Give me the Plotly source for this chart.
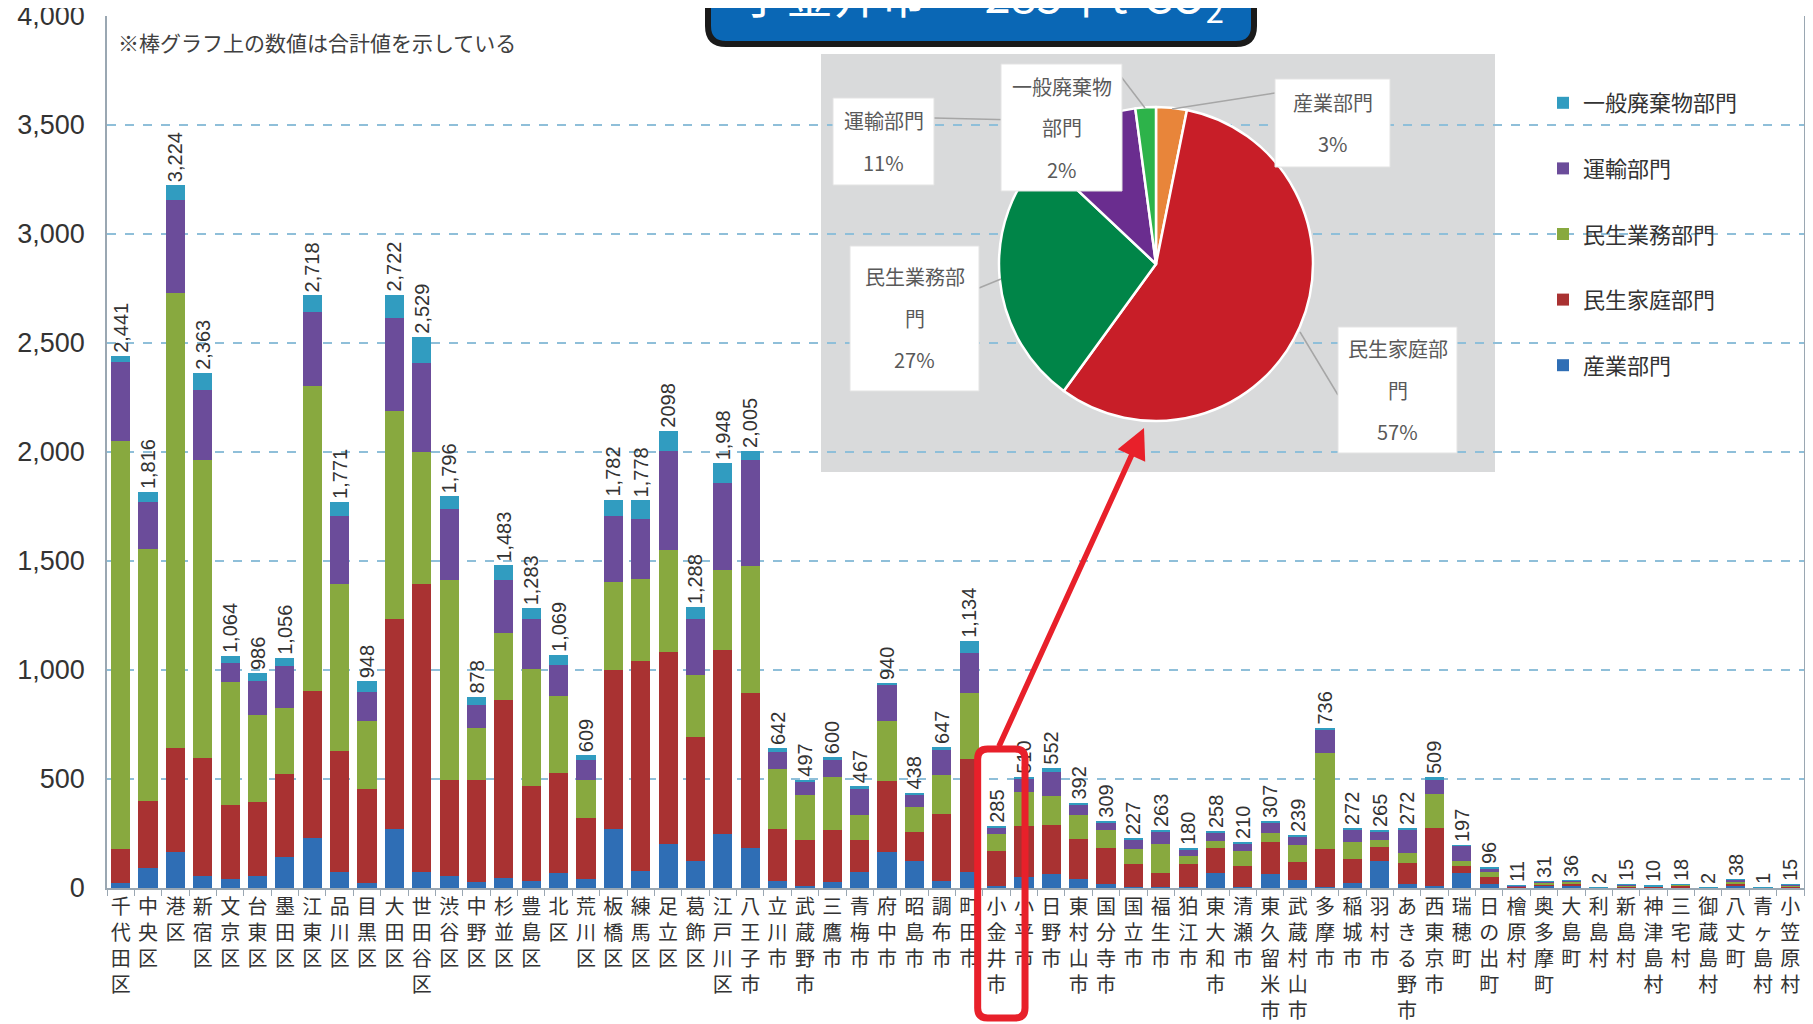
import plotly.graph_objects as go

# ---------------- data ----------------
municipalities = [
    "千代田区", "中央区", "港区", "新宿区", "文京区", "台東区", "墨田区", "江東区", "品川区", "目黒区",
    "大田区", "世田谷区", "渋谷区", "中野区", "杉並区", "豊島区", "北区", "荒川区", "板橋区", "練馬区",
    "足立区", "葛飾区", "江戸川区", "八王子市", "立川市", "武蔵野市", "三鷹市", "青梅市", "府中市", "昭島市",
    "調布市", "町田市", "小金井市", "小平市", "日野市", "東村山市", "国分寺市", "国立市", "福生市", "狛江市",
    "東大和市", "清瀬市", "東久留米市", "武蔵村山市", "多摩市", "稲城市", "羽村市", "あきる野市", "西東京市", "瑞穂町",
    "日の出町", "檜原村", "奥多摩町", "大島町", "利島村", "新島村", "神津島村", "三宅村", "御蔵島村", "八丈町",
    "青ヶ島村", "小笠原村",
]

total_labels = [
    "2,441", "1,816", "3,224", "2,363", "1,064", "986", "1,056", "2,718", "1,771", "948",
    "2,722", "2,529", "1,796", "878", "1,483", "1,283", "1,069", "609", "1,782", "1,778",
    "2098", "1,288", "1,948", "2,005", "642", "497", "600", "467", "940", "438",
    "647", "1,134", "285", "510", "552", "392", "309", "227", "263", "180",
    "258", "210", "307", "239", "736", "272", "265", "272", "509", "197",
    "96", "11", "31", "36", "2", "15", "10", "18", "2", "38",
    "1", "15",
]

industry = [  # 産業部門
    25, 93, 166, 57, 40, 57, 144, 228, 74, 25,
    270, 74, 57, 28, 46, 33, 70, 41, 272, 77,
    204, 122, 249, 184, 33, 11, 29, 72, 167, 122,
    34, 72, 9, 49, 64, 41, 18, 3, 6, 3,
    71, 3, 65, 38, 6, 22, 125, 18, 11, 68,
    20, 2, 8, 8, 0.3, 3, 2, 4, 0.3, 8,
    0.2, 3,
]
household = [  # 民生家庭部門
    154, 304, 475, 538, 342, 336, 380, 677, 554, 427,
    964, 1321, 438, 468, 818, 435, 456, 280, 730, 964,
    879, 571, 842, 712, 236, 208, 238, 150, 325, 133,
    306, 518, 162, 235, 226, 186, 165, 105, 63, 109,
    111, 100, 145, 80, 175, 109, 63, 96, 262, 35,
    30, 4, 10, 12, 0.7, 5, 3, 6, 0.7, 12,
    0.3, 5,
]
business = [  # 民生業務部門
    1873, 1156, 2089, 1367, 563, 401, 304, 1397, 768, 312,
    954, 603, 916, 236, 308, 538, 355, 174, 403, 375,
    469, 285, 368, 580, 275, 207, 242, 112, 272, 118,
    179, 303, 77, 158, 130, 107, 84, 69, 132, 35,
    32, 68, 42, 79, 439, 82, 31, 46, 159, 23,
    22, 2, 6, 8, 0.5, 3, 2, 4, 0.5, 9,
    0.2, 3,
]
transport = [  # 運輸部門
    359, 217, 426, 323, 87, 154, 190, 338, 312, 133,
    426, 409, 326, 109, 241, 228, 142, 90, 302, 277,
    453, 258, 399, 487, 82, 63, 77, 122, 165, 58,
    112, 184, 31, 57, 114, 46, 34, 45, 57, 29,
    40, 35, 49, 38, 108, 55, 42, 108, 65, 68,
    18, 2.8, 6, 7, 0.4, 3, 2, 3, 0.4, 8,
    0.2, 3,
]
waste = [  # 一般廃棄物部門
    30, 46, 68, 78, 32, 38, 38, 78, 63, 51,
    108, 122, 59, 37, 70, 49, 46, 24, 75, 85,
    93, 52, 90, 42, 16, 8, 14, 11, 11, 7,
    16, 57, 6, 11, 18, 12, 8, 5, 5, 4,
    4, 4, 6, 4, 8, 4, 4, 4, 12, 3,
    6, 0.2, 1, 1, 0.1, 1, 1, 1, 0.1, 1,
    0.1, 1,
]

sectors = ["産業部門", "民生家庭部門", "民生業務部門", "運輸部門", "一般廃棄物部門"]
series = [industry, household, business, transport, waste]
bar_colors = ["#2F6EB5", "#A93232", "#88A93F", "#6B4C9A", "#319CC0"]

focus_city = "小金井市"
pie_colors = ["#E8853A", "#C81E28", "#008548", "#6A2D8F", "#2DB34A"]
pie_callout_lines = {
    "産業部門": ["産業部門"],
    "民生家庭部門": ["民生家庭部", "門"],
    "民生業務部門": ["民生業務部", "門"],
    "運輸部門": ["運輸部門"],
    "一般廃棄物部門": ["一般廃棄物", "部門"],
}

y_ticks = [0, 500, 1000, 1500, 2000, 2500, 3000, 3500, 4000]

# ---------------- layout geometry (page pixels) ----------------
PAGE_W, PAGE_H = 1813, 1024
BODY = 8  # default html body margin
W, H = PAGE_W - BODY, PAGE_H - BODY
L, R, T, B = 107, 1804, 16, 888  # plot area in page pixels
N = len(municipalities)
step = (R - L) / N


def px(xp):
    return (xp - L) / (R - L)


def py(yp):
    return (B - yp) / (B - T)


def dx(xp):  # pixel -> category coordinate
    return (xp - L) / step - 0.5


def dy(yp):  # pixel -> value coordinate
    return (B - yp) / (B - T) * 4000


CJK = "Noto Sans CJK JP"
SANS = "Liberation Sans, Arial, sans-serif"

fig = go.Figure()

for i, (name, vals, col) in enumerate(zip(sectors, series, bar_colors)):
    kw = {}
    if i == len(sectors) - 1:
        kw = dict(text=total_labels, textposition="outside", textangle=-90,
                  constraintext="none", cliponaxis=False,
                  textfont=dict(family=SANS, size=20, color="#333333"))
    fig.add_trace(go.Bar(
        x=municipalities, y=vals, name=name, marker=dict(color=col, line=dict(width=0)),
        legendgroup=name, legendrank=len(sectors) - i, hoverinfo="x+y+name", **kw))

# pie for the focus city
ci = municipalities.index(focus_city)
pie_vals = [s[ci] for s in series]
pie_total = sum(pie_vals)
pie_cx, pie_cy, pie_r = 1156, 264, 157
fig.add_trace(go.Pie(
    labels=sectors, values=pie_vals, sort=False, direction="clockwise", rotation=0,
    marker=dict(colors=pie_colors, line=dict(color="white", width=2.5)),
    textinfo="none", showlegend=False, hole=0,
    domain=dict(x=[px(pie_cx - pie_r), px(pie_cx + pie_r)], y=[py(pie_cy + pie_r), py(pie_cy - pie_r)]),
))

shapes = []
annotations = []

# gray background of the pie inset
shapes.append(dict(type="rect", xref="paper", yref="paper", x0=px(821), x1=px(1495), y0=py(472), y1=py(54),
                   fillcolor="#D9DADB", line=dict(width=0), layer="between"))

# callouts: (sector, box(x0,y0,x1,y1), leader line (xa,ya,xb,yb))
callouts = [
    ("運輸部門", (833, 98, 934, 185), (934, 118, 1104, 122)),
    ("一般廃棄物部門", (1001, 64, 1122, 191), (1116, 70, 1145, 108)),
    ("産業部門", (1275, 79, 1390, 167), (1275, 93, 1172, 109)),
    ("民生業務部門", (850, 246, 979, 391), (979, 288, 1001, 279)),
    ("民生家庭部門", (1338, 327, 1457, 453), (1300, 332, 1338, 395)),
]
for sec, box, ln in callouts:
    shapes.append(dict(type="line", xref="paper", yref="paper", x0=px(ln[0]), y0=py(ln[1]),
                       x1=px(ln[2]), y1=py(ln[3]), line=dict(color="#A6A6A6", width=1.5), layer="above"))
for sec, box, ln in callouts:
    x0, y0, x1, y1 = box
    shapes.append(dict(type="rect", xref="paper", yref="paper", x0=px(x0), x1=px(x1), y0=py(y1), y1=py(y0),
                       fillcolor="white", line=dict(color="#E3E3E3", width=1), layer="above"))
    pct = round(pie_vals[sectors.index(sec)] / pie_total * 100)
    lines = pie_callout_lines[sec] + [f"{pct}%"]
    n = len(lines)
    gap = 41.5
    cy = (y0 + y1) / 2
    for k, t in enumerate(lines):
        yy = cy + (k - (n - 1) / 2) * gap
        annotations.append(dict(xref="paper", yref="paper", x=px((x0 + x1) / 2), y=py(yy), text=t,
                                showarrow=False, xanchor="center", yanchor="middle",
                                font=dict(family=CJK, size=20, color="#595959")))

# title box (cut off at the top of the image)


def rounded_path(x0, y0, x1, y1, r):
    # pixel coords, rounded bottom corners
    pts = [
        f"M {px(x0)},{py(y0)}",
        f"L {px(x1)},{py(y0)}",
        f"L {px(x1)},{py(y1 - r)}",
        f"Q {px(x1)},{py(y1)} {px(x1 - r)},{py(y1)}",
        f"L {px(x0 + r)},{py(y1)}",
        f"Q {px(x0)},{py(y1)} {px(x0)},{py(y1 - r)}",
        "Z",
    ]
    return " ".join(pts)


shapes.append(dict(type="path", xref="paper", yref="paper", path=rounded_path(708, -60, 1254, 44, 18),
                   fillcolor="#0A67B5", line=dict(color="#1A1A1A", width=6), layer="above"))
annotations.append(dict(xref="paper", yref="paper", x=px(981), y=py(-5), xanchor="center", yanchor="middle",
                        text=f"{focus_city}　 {round(pie_total)}千t-CO<sub>2</sub>", showarrow=False,
                        font=dict(family=CJK, size=47, color="white")))

# red frame around the focus city label


def rounded_rect_mixed(x0, x1, y0p, y1p, rx, ry):
    # x in category units, y in paper units
    return (f"M {x0 + rx},{y1p} L {x1 - rx},{y1p} Q {x1},{y1p} {x1},{y1p - ry} "
            f"L {x1},{y0p + ry} Q {x1},{y0p} {x1 - rx},{y0p} L {x0 + rx},{y0p} "
            f"Q {x0},{y0p} {x0},{y0p + ry} L {x0},{y1p - ry} Q {x0},{y1p} {x0 + rx},{y1p} Z")


fx0, fx1 = ci - 0.69, ci + 1.04
shapes.append(dict(type="path", xref="x", yref="paper",
                   path=rounded_rect_mixed(fx0, fx1, py(1018), py(749), 10 / step, 10 / (B - T)),
                   line=dict(color="#E8202A", width=7), fillcolor="rgba(0,0,0,0)", layer="above"))

# red arrow from focus bar to pie
annotations.append(dict(xref="x", yref="y", x=dx(1144), y=dy(428), axref="x", ayref="y",
                        ax=ci + 0.06, ay=dy(748), showarrow=True, arrowhead=2, arrowsize=1.1,
                        arrowwidth=5.5, arrowcolor="#E8202A", standoff=0, startstandoff=0, text=""))

# note text
annotations.append(dict(xref="paper", yref="paper", x=px(116), y=py(42), xanchor="left", yanchor="middle",
                        text="※棒グラフ上の数値は合計値を示している", showarrow=False,
                        font=dict(family=CJK, size=21, color="#404040")))

tick_text = ["<br>".join(list(n)) for n in municipalities]

fig.update_layout(
    width=W, height=H,
    margin=dict(l=L - BODY, r=W - (R - BODY), t=T - BODY, b=H - (B - BODY), pad=0, autoexpand=False),
    paper_bgcolor="white", plot_bgcolor="white",
    barmode="stack", bargap=0.3,
    showlegend=True,
    legend=dict(x=px(1543), y=py(82), xanchor="left", yanchor="top", traceorder="grouped",
                tracegroupgap=34, itemwidth=30, bgcolor="rgba(0,0,0,0)",
                font=dict(family=CJK, size=22, color="#333333")),
    xaxis=dict(tickmode="array", tickvals=municipalities, ticktext=tick_text, tickangle=0,
               tickfont=dict(family=CJK, size=20, color="#333333"), ticks="outside", ticklen=6,
               tickcolor="#9AA7B2", tickson="boundaries", showline=True, linecolor="#9AA7B2",
               linewidth=1.5, showgrid=False, range=[-0.5, N - 0.5], ticklabelstandoff=0,
               automargin=False, ticklabeloverflow="allow"),
    yaxis=dict(range=[0, 4000], tickvals=y_ticks, ticktext=[f"{v:,}" for v in y_ticks],
               tickfont=dict(family=SANS, size=27, color="#333333"), showline=True, mirror=True,
               linecolor="#9AA7B2", linewidth=1.5, showgrid=True, gridcolor="#8FBFD9", gridwidth=1.5,
               griddash="dash", zeroline=False, ticks="", ticklabelstandoff=15, automargin=False,
               ticklabeloverflow="allow"),
    shapes=shapes, annotations=annotations,
    font=dict(family=CJK),
)

fig.write_html("out.html")
